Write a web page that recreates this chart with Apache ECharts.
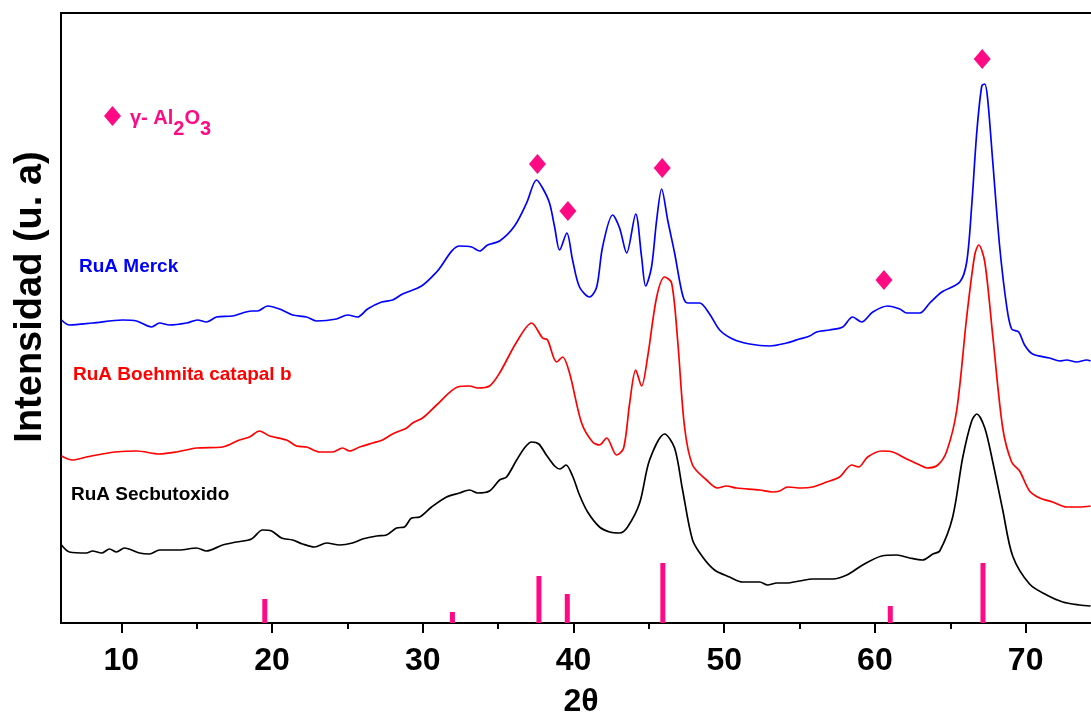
<!DOCTYPE html>
<html>
<head>
<meta charset="utf-8">
<script src="https://cdn.jsdelivr.net/npm/echarts@6/dist/echarts.min.js"></script>
<style>
  html, body { margin: 0; padding: 0; background: #fff; }
  #chart { width: 1091px; height: 714px; }
</style>
</head>
<body>
<div id="chart"></div>
<script>
const FONT = "'Liberation Sans', Arial, Helvetica, sans-serif";
const PINK = '#FF0A84';

// 2theta vs intensity (arbitrary units, curves already offset)
const merck = [
    [6.03,303],[6.56,298],[8.09,300],[10.08,303],[11.01,302],[12.01,296],[12.54,300],[13.20,298],[14.33,300],[15.06,303],
    [15.65,301],[16.32,306],[17.38,307],[18.64,312],[19.04,312],[19.70,317],[20.50,314],[21.37,308],[22.29,306],[22.95,302],
    [24.28,304],[25.01,308],[25.67,306],[26.34,314],[27.27,321],[28.00,323],[28.66,329],[29.92,337],[30.92,351],[32.44,377],
    [33.24,376],[33.77,372],[34.30,378],[35.10,382],[36.09,397],[36.89,420],[37.55,443],[37.95,435],[38.41,420],[38.75,396],
    [39.08,373],[39.56,390],[39.94,363],[40.40,336],[41.07,326],[41.54,336],[41.93,376],[42.60,408],[43.06,395],[43.53,370],
    [44.13,409],[44.52,366],[44.79,337],[45.18,356],[45.52,403],[45.85,434],[46.25,403],[46.71,370],[47.24,328],[47.57,320],
    [48.37,320],[49.03,309],[49.70,293],[50.56,284],[51.69,279],[53.01,277],[54.14,280],[55.00,284],[55.67,287],[56.13,291],
    [57.00,293],[57.86,296],[58.52,306],[59.12,301],[59.86,311],[60.85,317],[61.65,314],[62.11,310],[62.98,310],[63.64,320],
    [64.44,331],[65.63,341],[66.09,361],[66.42,417],[66.76,491],[67.09,537],[67.29,539],[67.48,524],[67.82,461],[68.28,376],
    [68.74,317],[69.07,294],[69.54,291],[69.93,278],[70.46,269],[71.59,265],[72.26,262],[72.72,263],[73.38,261],[74.05,263],
    [74.31,262]
];
const boehmita = [
    [6.03,167],[6.76,163],[7.69,166],[8.75,169],[9.55,171],[11.01,172],[12.54,169],[13.66,171],[14.99,175],[16.72,176],
    [17.84,183],[18.51,186],[19.17,192],[19.84,187],[20.96,183],[21.63,177],[22.29,176],[23.15,171],[24.02,171],[24.68,175],
    [25.14,172],[25.81,176],[26.67,180],[27.33,183],[28.00,189],[28.93,195],[29.33,200],[29.99,205],[30.92,218],[32.31,236],
    [33.11,237],[33.64,235],[34.43,237],[35.10,250],[36.23,281],[37.22,300],[37.95,285],[38.28,283],[38.88,261],[39.28,266],
    [39.74,250],[40.54,200],[41.27,181],[41.73,178],[42.20,185],[42.86,168],[43.33,175],[43.73,220],[44.13,253],[44.52,237],
    [44.92,266],[45.52,326],[46.05,346],[46.51,340],[46.91,283],[47.37,196],[47.90,158],[48.83,143],[49.56,135],[50.16,137],
    [50.82,135],[52.35,133],[53.20,131],[53.68,132],[54.21,136],[55.10,135],[55.87,136],[56.80,141],[57.66,146],[58.46,158],
    [58.92,156],[59.52,166],[60.45,172],[61.18,171],[62.11,164],[62.98,158],[63.44,155],[64.17,158],[64.77,172],[65.43,213],
    [66.09,306],[66.62,368],[66.89,378],[67.29,361],[67.82,287],[68.48,195],[69.07,161],[69.60,152],[70.26,132],[70.93,125],
    [71.79,121],[72.72,116],[73.58,116],[74.31,117]
];
const secbutoxido = [
    [6.03,78],[6.56,71],[7.69,70],[8.09,72],[8.69,70],[9.22,74],[9.68,71],[10.21,75],[11.21,70],[11.87,69],
    [12.54,73],[13.86,73],[14.99,75],[15.65,72],[16.72,78],[17.65,81],[18.64,84],[19.37,93],[19.97,92],[20.63,85],
    [21.37,83],[22.03,79],[22.82,76],[23.62,80],[24.48,78],[25.34,80],[26.01,84],[26.94,87],[27.60,88],[28.26,95],
    [28.79,96],[29.26,105],[29.79,106],[30.59,116],[31.58,126],[32.44,130],[33.11,133],[33.64,130],[34.43,132],[35.10,143],
    [35.56,146],[36.23,163],[36.80,176],[37.22,181],[37.70,179],[38.20,168],[38.75,157],[39.10,154],[39.50,158],[39.94,147],
    [40.40,128],[40.94,111],[41.73,96],[42.40,91],[43.06,90],[43.59,96],[44.39,120],[45.05,163],[46.05,189],[46.71,175],
    [47.24,133],[47.90,83],[48.57,66],[49.36,53],[50.36,46],[51.22,41],[52.35,41],[52.88,38],[53.50,40],[54.14,40],
    [55.00,42],[55.87,44],[57.20,44],[58.13,48],[59.19,58],[60.45,67],[61.45,68],[62.31,65],[63.17,63],[63.84,69],
    [64.30,72],[65.16,106],[65.82,165],[66.42,202],[66.76,209],[67.29,195],[67.82,161],[68.48,113],[69.14,67],[70.26,39],
    [71.39,28],[72.46,21],[73.58,18],[74.31,17]
];

// gamma-Al2O3 reference pattern
const refPos = [19.52, 31.97, 37.71, 39.59, 45.93, 61.02, 67.17];
const refInt = [24, 11, 47, 29, 60, 17, 60];

// diamond markers over the Merck curve
const markPos = [37.61, 39.63, 45.89, 60.6, 67.12];
const markInt = [459, 412, 455, 343, 564];

const majorTicks = [10, 20, 30, 40, 50, 60, 70];
const minorTicks = [15, 25, 35, 45, 55, 65, 75];

const curves = [
    { name: 'RuA Merck', data: merck, color: '#0000FF', label: [79, 267] },
    { name: 'RuA Boehmita catapal b', data: boehmita, color: '#FF0000', label: [73, 375] },
    { name: 'RuA Secbutoxido', data: secbutoxido, color: '#000000', label: [71, 495] }
];

const chart = echarts.init(document.getElementById('chart'), null, { renderer: 'canvas' });

const subStyle = (pad) => ({ fontSize: 20, fontWeight: 'bold', color: PINK, fontFamily: FONT, padding: pad });

chart.setOption({
    animation: false,
    backgroundColor: '#fff',
    textStyle: { fontFamily: FONT },
    grid: {
        left: 61, right: -10, top: 13, bottom: 91, outerBoundsMode: 'none', containLabel: false,
        show: true, borderColor: '#000', borderWidth: 2, backgroundColor: 'transparent'
    },
    legend: {
        left: 104, top: 106, padding: 0,
        itemWidth: 17, itemHeight: 20,
        selectedMode: false,
        data: [{ name: 'gAl2O3', icon: 'diamond' }],
        formatter: () => '{f|γ- Al}{s|2}{n|O}{s|3}',
        textStyle: {
            rich: {
                f: subStyle([16, 0, 11, 4]),
                n: subStyle([16, 0, 11, 0]),
                s: subStyle([27, 0, 0, 0])
            }
        }
    },
    xAxis: [{
        type: 'value', min: 6, max: 75, position: 'bottom',
        name: '2θ', nameLocation: 'middle', nameGap: 63,
        nameTextStyle: { fontSize: 32, fontWeight: 'bold', color: '#000', fontFamily: FONT },
        axisLine: { show: true, lineStyle: { color: '#000', width: 2 } },
        axisTick: { show: true, customValues: majorTicks, length: 10, lineStyle: { color: '#000', width: 2 } },
        axisLabel: { customValues: majorTicks, fontSize: 32, fontWeight: 'bold', color: '#000', margin: 22, fontFamily: FONT },
        splitLine: { show: false }
    }, {
        type: 'value', min: 6, max: 75, position: 'bottom',
        axisLine: { show: false },
        axisTick: { show: true, customValues: minorTicks, length: 6, lineStyle: { color: '#000', width: 2 } },
        axisLabel: { show: false },
        splitLine: { show: false }
    }],
    yAxis: {
        type: 'value', min: 0, max: 610,
        axisLine: { show: false }, axisTick: { show: false }, axisLabel: { show: false }, splitLine: { show: false }
    },
    graphic: [
        {
            type: 'text', x: 31, y: 297, rotation: Math.PI / 2,
            style: { text: 'Intensidad (u. a)', font: 'bold 38px ' + FONT, fill: '#000', align: 'center', verticalAlign: 'middle' }
        },
        ...curves.map(c => ({
            type: 'text', x: c.label[0], y: c.label[1],
            style: { text: c.name, font: 'bold 19px ' + FONT, fill: c.color, verticalAlign: 'middle' }
        }))
    ],
    series: [
        ...curves.map(c => ({
            name: c.name, type: 'line', data: c.data,
            smooth: 0.3, showSymbol: false,
            lineStyle: { color: c.color, width: 1.7 },
            itemStyle: { color: c.color }
        })),
        {
            name: 'ref', type: 'bar', barWidth: 5,
            data: refPos.map((x, i) => [x, refInt[i]]),
            itemStyle: { color: PINK, opacity: 1 }
        },
        {
            name: 'gAl2O3', type: 'scatter', symbol: 'diamond', symbolSize: [17, 20],
            data: markPos.map((x, i) => [x, markInt[i]]),
            itemStyle: { color: PINK, opacity: 1 }
        }
    ]
});
</script>
</body>
</html>
